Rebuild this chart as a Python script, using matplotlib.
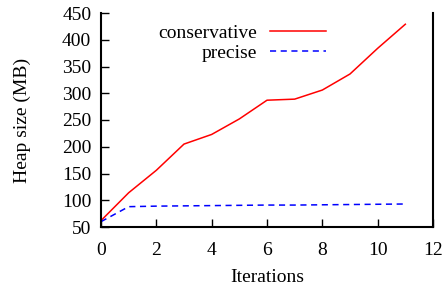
import matplotlib
matplotlib.use("Agg")
import matplotlib.pyplot as plt

iterations = [0, 1, 2, 3, 4, 5, 6, 7, 8, 9, 10, 11]
conservative = [62, 114, 156, 205, 223, 252, 287, 289, 306, 336, 384, 429]
precise = [60, 88, 89, 89.5, 90, 90.5, 91, 91, 91.5, 92, 92.5, 93]

plt.rcParams['font.family'] = ['Liberation Serif', 'DejaVu Serif']
plt.rcParams['font.size'] = 14

fig = plt.figure(figsize=(4.47, 2.88), dpi=100)
ax = fig.add_axes([101/447, 1-227/288, (433-101)/447, (227-13)/288])

ax.plot(iterations, conservative, color='#ff0000', lw=1.1, label='conservative')
ax.plot(iterations, precise, color='#0000ff', lw=1.1, ls=(0, (4, 3)), label='precise')

ax.set_xlim(0, 12)
ax.set_ylim(50, 450)
ax.set_xticks(range(0, 13, 2))
ax.set_yticks(range(50, 451, 50))
ax.spines['top'].set_visible(False)
for s in ['left', 'right', 'bottom']:
    ax.spines[s].set_linewidth(1.5)
ax.tick_params(direction='in', length=6, width=1.0, top=False, right=False)
ax.tick_params(axis='y', pad=7)
ax.tick_params(axis='x', pad=11)
ax.set_xlabel('Iterations', labelpad=7)
ax.set_ylabel('Heap size (MB)', labelpad=22)

leg = ax.legend(loc='upper right', bbox_to_anchor=(0.72, 1.01), frameon=False,
                markerfirst=False, handlelength=2.9, handletextpad=0.67,
                labelspacing=0.1, borderpad=0.2)
for t in leg.get_texts():
    t.set_ha('right')
fig.savefig('out.png', dpi=100)
